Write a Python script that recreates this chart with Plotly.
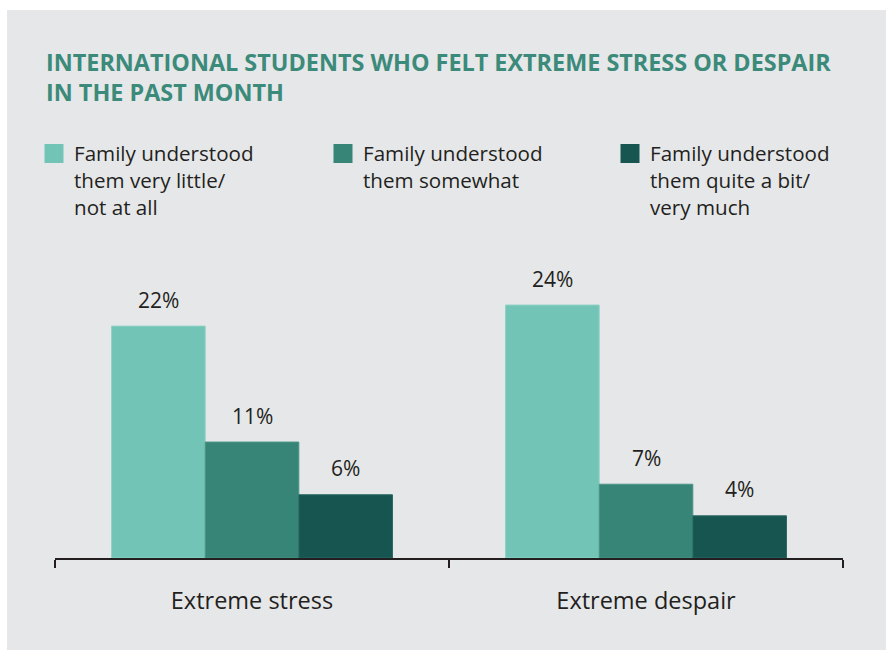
import plotly.graph_objects as go

categories = ["Extreme stress", "Extreme despair"]
series_names = [
    "Family understood<br>them very little/<br>not at all",
    "Family understood<br>them somewhat",
    "Family understood<br>them quite a bit/<br>very much",
]
values = [
    [22, 24],
    [11, 7],
    [6, 4],
]
colors = ["#72c5b6", "#368577", "#175650"]
edge_colors = ["#8fd2c5", "#4b9587", "#2a6862"]
title_text = "INTERNATIONAL STUDENTS WHO FELT EXTREME STRESS OR DESPAIR<br>IN THE PAST MONTH"

W, H = 886, 650
ML, MR, MT, MB = 55, 43, 295, 92
BARGAP = 0.287
FONT = "Open Sans"
TXT = "#231f20"
BG = "#e6e7e9"
LEGEND_X = [34, 323, 610]
LEGEND_IDS = ["legend", "legend2", "legend3"]

fig = go.Figure()
for i, name in enumerate(series_names):
    fig.add_trace(go.Bar(
        x=categories, y=values[i], name=name, showlegend=False,
        marker=dict(color=colors[i], line=dict(color=edge_colors[i], width=1)),
        hoverinfo="skip",
    ))
    fig.add_trace(go.Scatter(
        x=[None], y=[None], mode="markers", name=name, showlegend=True,
        legend=LEGEND_IDS[i],
        marker=dict(symbol="square", size=16, color=colors[i],
                    line=dict(color=colors[i], width=3)),
    ))

plot_w = W - ML - MR
plot_h = H - MT - MB
bar_w = plot_w / len(categories) * (1 - BARGAP) / len(series_names)
annotations = []
for i in range(len(series_names)):
    for j, c in enumerate(categories):
        annotations.append(dict(
            x=c, y=values[i][j], xref="x", yref="y",
            text=f"{values[i][j]}%", showarrow=False,
            xshift=(i - (len(series_names) - 1) / 2) * bar_w,
            yanchor="middle", yshift=26.5,
            font=dict(family=FONT, size=21, color=TXT),
        ))

y_top = plot_h / 10.54

legend_common = dict(
    orientation="v", xref="container", yref="container",
    xanchor="left", y=1 - 133.5 / H, yanchor="top",
    font=dict(family=FONT, size=20.6, color=TXT),
    valign="top", bgcolor="rgba(0,0,0,0)",
    itemclick=False, itemdoubleclick=False,
)
legends = {}
for k, lid in enumerate(LEGEND_IDS):
    legends[lid] = dict(legend_common, x=LEGEND_X[k] / W)

fig.update_layout(
    width=W, height=H,
    margin=dict(l=ML, r=MR, t=MT, b=MB, autoexpand=False),
    paper_bgcolor="white",
    plot_bgcolor="rgba(0,0,0,0)",
    barmode="group", bargap=BARGAP, bargroupgap=0,
    font=dict(family=FONT, color=TXT),
    title=dict(
        text=title_text, xref="container", yref="container",
        x=46 / W, xanchor="left", y=1 - 71 / H, yanchor="top",
        font=dict(family=FONT, size=23.4, color="#3b8a7a", weight="bold"),
    ),
    xaxis=dict(
        showline=True, linecolor=TXT, linewidth=2,
        ticks="outside", tickson="boundaries", ticklen=8, tickwidth=2, tickcolor=TXT,
        tickfont=dict(family=FONT, size=23.5, color=TXT),
        ticklabelstandoff=21, showgrid=False, zeroline=False, fixedrange=True,
    ),
    yaxis=dict(visible=False, range=[0, y_top], fixedrange=True),
    annotations=annotations,
    shapes=[dict(
        type="rect", xref="paper", yref="paper", layer="below",
        x0=(7 - ML) / plot_w, x1=1 + 60 / plot_w,
        y0=-200 / plot_h, y1=(H - MB - 10) / plot_h,
        fillcolor=BG, line=dict(width=0),
    )],
    **legends,
)

fig.write_html("out.html")
